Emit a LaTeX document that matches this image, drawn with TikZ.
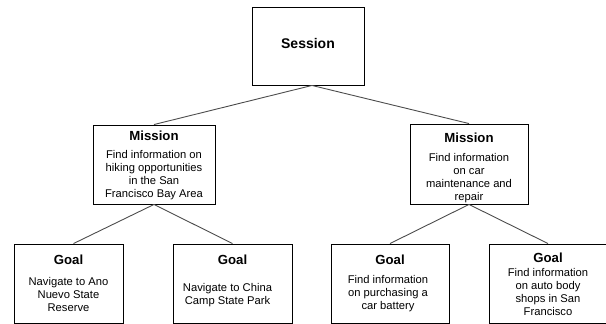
\documentclass[tikz,border=0pt]{standalone}
\usepackage{fontspec}
\setmainfont{Liberation Sans}
\usetikzlibrary{positioning}

\tikzset{
  box/.style={draw=black, line width=0.9pt, inner sep=0pt},
  ttl/.style={inner sep=0pt, font=\bfseries\fontsize{13.2}{15}\selectfont},
  txt/.style={inner sep=0pt, align=center, font=\fontsize{11.2}{13}\selectfont},
  conn/.style={draw=black!70, line width=0.9pt}
}

\begin{document}
\begin{tikzpicture}[x=1pt,y=-1pt]
  \useasboundingbox (0,0) rectangle (606,324);
  % boxes
  \node[box, minimum width=112pt, minimum height=78pt] (session) at (308,46) {};
  \node[box, minimum width=122pt, minimum height=79pt] (misL) at (154,164.5) {};
  \node[box, minimum width=118pt, minimum height=80pt] (misR) at (469,164) {};
  \node[box, minimum width=109pt, minimum height=79pt] (goalA) at (68.5,283.5) {};
  \node[box, minimum width=119pt, minimum height=79pt] (goalB) at (232.5,283.5) {};
  \node[box, minimum width=118pt, minimum height=79pt] (goalC) at (390,283.5) {};
  \node[box, minimum width=118pt, minimum height=79pt] (goalD) at (548,283.5) {};
  % titles and texts
  \node[inner sep=0pt, font=\bfseries\fontsize{14}{16}\selectfont, yshift=3pt] (session-t) at (session) {Session};
  \node[ttl, below=6pt of misL.north] (misL-t) {Mission};
  \node[txt, below=10pt of misL-t] (misL-b) {Find information on\\hiking opportunities\\in the San\\Francisco Bay Area};
  \node[ttl, below=9pt of misR.north] (misR-t) {Mission};
  \node[txt, below=11pt of misR-t] (misR-b) {Find information\\on car\\maintenance and\\repair};
  \node[ttl, below=11pt of goalA.north] (goalA-t) {Goal};
  \node[txt, below=13pt of goalA-t] (goalA-b) {Navigate to Ano\\Nuevo State\\Reserve};
  \node[ttl, below=11pt of goalB.north] (goalB-t) {Goal};
  \node[txt, below=19pt of goalB-t, xshift=-5pt] (goalB-b) {Navigate to China\\Camp State Park};
  \node[ttl, below=11pt of goalC.north] (goalC-t) {Goal};
  \node[txt, below=11pt of goalC-t, xshift=-2pt] (goalC-b) {Find information\\on purchasing a\\car battery};
  \node[ttl, below=9pt of goalD.north] (goalD-t) {Goal};
  \node[txt, below=6pt of goalD-t] (goalD-b) {Find information\\on auto body\\shops in San\\Francisco};
  % links
  \path[conn]
  ([xshift=4pt]session.south) edge (misL.north)
  ([xshift=4pt]session.south) edge (misR.north)
  (misL.south) edge ([xshift=5pt]goalA.north)
  (misL.south) edge (goalB.north)
  (misR.south) edge (goalC.north)
  (misR.south) edge (goalD.north);
\end{tikzpicture}
\end{document}
